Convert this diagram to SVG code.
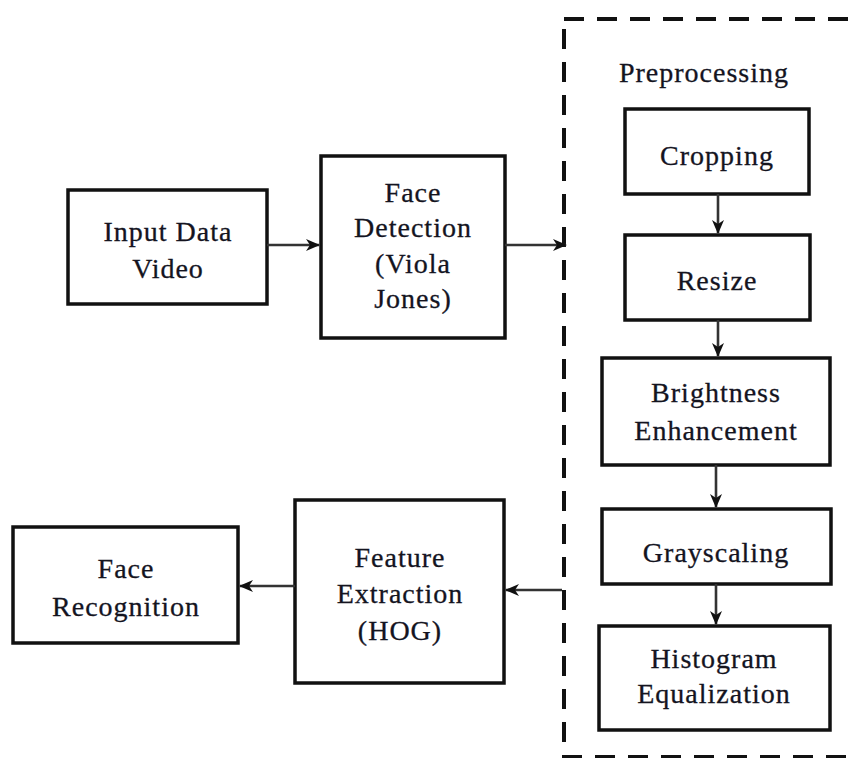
<svg xmlns="http://www.w3.org/2000/svg" width="848" height="758" viewBox="0 0 848 758">
<style>
.box{fill:#fff;stroke:#111;stroke-width:3.5}
.t{font-family:"Liberation Serif","Times New Roman",serif;font-size:28px;letter-spacing:1px;fill:#14141f;stroke:#14141f;stroke-width:0.3;text-anchor:middle}
.c{stroke:#333;stroke-width:2.6;fill:none;marker-end:url(#ah)}
</style>
<defs>
<marker id="ah" viewBox="0 0 14 12" refX="13" refY="6" markerWidth="14" markerHeight="12" markerUnits="userSpaceOnUse" orient="auto">
<path d="M0,0 L14,6 L0,12 L4,6 z" fill="#111"/>
</marker>
</defs>
<rect width="848" height="758" fill="#fff"/>
<g id="preprocessing-group">
<rect x="564" y="19" width="300" height="738" fill="none" stroke="#111" stroke-width="4" stroke-dasharray="20 13"/>
<text class="t" x="704" y="82">Preprocessing</text>
</g>
<g id="input"><rect class="box" x="68" y="190" width="199" height="114"/><text class="t" x="168" y="241">Input Data</text><text class="t" x="168" y="278">Video</text></g>
<g id="face-detection"><rect class="box" x="321" y="156" width="184" height="182"/><text class="t" x="413" y="202">Face</text><text class="t" x="413" y="237">Detection</text><text class="t" x="413" y="273">(Viola</text><text class="t" x="413" y="308">Jones)</text></g>
<g id="cropping"><rect class="box" x="625" y="109" width="184" height="85"/><text class="t" x="717" y="165">Cropping</text></g>
<g id="resize"><rect class="box" x="625" y="235" width="185" height="85"/><text class="t" x="717" y="290">Resize</text></g>
<g id="brightness"><rect class="box" x="602" y="358" width="228" height="107"/><text class="t" x="716" y="402">Brightness</text><text class="t" x="716" y="440">Enhancement</text></g>
<g id="grayscaling"><rect class="box" x="602" y="509" width="229" height="75"/><text class="t" x="716" y="562">Grayscaling</text></g>
<g id="histogram"><rect class="box" x="599" y="626" width="231" height="104"/><text class="t" x="714" y="668">Histogram</text><text class="t" x="714" y="703">Equalization</text></g>
<g id="feature-extraction"><rect class="box" x="295" y="500" width="209" height="183"/><text class="t" x="400" y="567">Feature</text><text class="t" x="400" y="603">Extraction</text><text class="t" x="400" y="640">(HOG)</text></g>
<g id="face-recognition"><rect class="box" x="13" y="527" width="225" height="116"/><text class="t" x="126" y="578">Face</text><text class="t" x="126" y="616">Recognition</text></g>
<g id="connectors">
<line class="c" x1="267" y1="245" x2="319" y2="245"/>
<line class="c" x1="505" y1="245" x2="566" y2="245"/>
<line class="c" x1="718" y1="194" x2="718" y2="233"/>
<line class="c" x1="718" y1="320" x2="718" y2="356"/>
<line class="c" x1="716" y1="465" x2="716" y2="507"/>
<line class="c" x1="716" y1="584" x2="716" y2="624"/>
<line class="c" x1="562" y1="590" x2="506" y2="590"/>
<line class="c" x1="295" y1="586" x2="240" y2="586"/>
</g>
</svg>
